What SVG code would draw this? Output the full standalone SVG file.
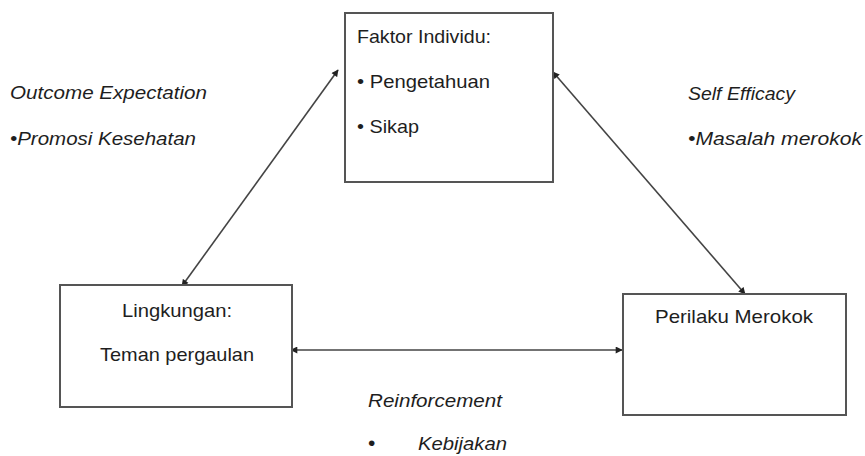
<svg xmlns="http://www.w3.org/2000/svg" width="865" height="456" viewBox="0 0 865 456">
<style>
.box{fill:#fff;stroke:#555;stroke-width:2}
.t{font-family:"Liberation Sans",Arial,sans-serif;font-size:18.5px;fill:#1e1e1e}
.i{font-style:italic}
.c{stroke:#444;stroke-width:1.6;fill:none;marker-start:url(#ah);marker-end:url(#ah)}
</style>
<defs>
<marker id="ah" viewBox="0 0 10 10" refX="9" refY="5" markerWidth="8" markerHeight="7" markerUnits="userSpaceOnUse" orient="auto-start-reverse">
<path d="M0,0 L10,5 L0,10 z" fill="#222"/>
</marker>
</defs>
<rect width="865" height="456" fill="#fff"/>
<g id="connectors">
<line class="c" x1="182" y1="286" x2="338" y2="70"/>
<line class="c" x1="553" y1="72" x2="745" y2="294"/>
<line class="c" x1="291" y1="350" x2="622" y2="350"/>
</g>
<g id="faktor-individu">
<rect class="box" x="345" y="13" width="208" height="169"/>
<text class="t" x="357" y="43" textLength="134" lengthAdjust="spacingAndGlyphs">Faktor Individu:</text>
<text class="t" x="357" y="88" textLength="133" lengthAdjust="spacingAndGlyphs">• Pengetahuan</text>
<text class="t" x="357" y="133" textLength="62" lengthAdjust="spacingAndGlyphs">• Sikap</text>
</g>
<g id="lingkungan">
<rect class="box" x="60" y="285" width="232" height="122"/>
<text class="t" x="122" y="317" textLength="110" lengthAdjust="spacingAndGlyphs">Lingkungan:</text>
<text class="t" x="100" y="361" textLength="154" lengthAdjust="spacingAndGlyphs">Teman pergaulan</text>
</g>
<g id="perilaku-merokok">
<rect class="box" x="623" y="294" width="223" height="121"/>
<text class="t" x="655" y="323" textLength="158" lengthAdjust="spacingAndGlyphs">Perilaku Merokok</text>
</g>
<g id="outcome-expectation">
<text class="t i" x="10" y="99" textLength="197" lengthAdjust="spacingAndGlyphs">Outcome Expectation</text>
<text class="t i" x="10" y="145" textLength="186" lengthAdjust="spacingAndGlyphs">•Promosi Kesehatan</text>
</g>
<g id="self-efficacy">
<text class="t i" x="688" y="100" textLength="107" lengthAdjust="spacingAndGlyphs">Self Efficacy</text>
<text class="t i" x="688" y="145" textLength="174" lengthAdjust="spacingAndGlyphs">•Masalah merokok</text>
</g>
<g id="reinforcement">
<text class="t i" x="368" y="407" textLength="134" lengthAdjust="spacingAndGlyphs">Reinforcement</text>
<text class="t" x="368" y="450" style="font-size:21px">•</text>
<text class="t i" x="418" y="450" textLength="89" lengthAdjust="spacingAndGlyphs">Kebijakan</text>
</g>
</svg>
